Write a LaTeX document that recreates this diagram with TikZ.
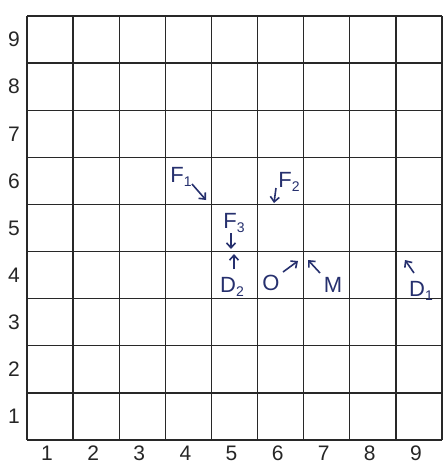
\documentclass[tikz,border=0pt]{standalone}
\usepackage{fontspec}
\setmainfont{Liberation Sans}
\usetikzlibrary{arrows.meta}
\definecolor{ink}{RGB}{38,48,110}
\definecolor{gridc}{RGB}{40,40,40}
\newcommand{\lsub}[1]{\raisebox{-4pt}{\fontsize{14}{14}\selectfont #1}}
\tikzset{
  gridline/.style={gridc, line width=1.3pt},
  axlabel/.style={font=\fontsize{21}{21}\selectfont, text=black!85, inner sep=0pt},
  hand/.style={font=\fontsize{22}{22}\selectfont, text=ink, inner sep=0pt},
  vec/.style={ink, line width=1.6pt, -{Straight Barb[length=5pt,width=9pt]}},
}
\begin{document}
\begin{tikzpicture}[x=1pt,y=-1pt]
\useasboundingbox (0,0) rectangle (444,464);
\fill[white] (0,0) rectangle (444,464);
% grid: left 27, right 442, top 16, bottom 440
\foreach \i in {0,...,9} {
  \draw[gridline] ({27+\i*46.11},16) -- ({27+\i*46.11},440);
  \draw[gridline] (27,{16+\i*47.11}) -- (442,{16+\i*47.11});
}
% axis labels
\foreach \k in {1,...,9} {
  \node[axlabel] (r\k) at (14,{440-(\k-0.5)*47.11}) {\k};
  \node[axlabel] (c\k) at ({27+(\k-0.5)*46.11-3},453) {\k};
}
% handwritten labels
\node[hand] (F1) at (181,177) {F\lsub{1}};
\node[hand] (F2) at (289,182) {F\lsub{2}};
\node[hand] (F3) at (234,223) {F\lsub{3}};
\node[hand] (D2) at (232,287) {D\lsub{2}};
\node[hand] (O) at (271,283) {O};
\node[hand] (M) at (333,285) {M};
\node[hand] (D1) at (421,291) {D\lsub{1}};
% arrows
\coordinate (a1s) at (192,184); \coordinate (a1e) at (206,200);
\coordinate (a2s) at (276,188); \coordinate (a2e) at (274,203);
\coordinate (a3s) at (231,233); \coordinate (a3e) at (231,249);
\coordinate (a4s) at (234,269); \coordinate (a4e) at (234,254);
\coordinate (a5s) at (283,272); \coordinate (a5e) at (298,261);
\coordinate (a6s) at (320,273); \coordinate (a6e) at (308,260);
\coordinate (a7s) at (414,273); \coordinate (a7e) at (405,260);
\draw[vec] (a1s) -- (a1e);
\draw[vec] (a2s) -- (a2e);
\draw[vec] (a3s) -- (a3e);
\draw[vec] (a4s) -- (a4e);
\draw[vec] (a5s) -- (a5e);
\draw[vec] (a6s) -- (a6e);
\draw[vec] (a7s) -- (a7e);
\end{tikzpicture}
\end{document}
